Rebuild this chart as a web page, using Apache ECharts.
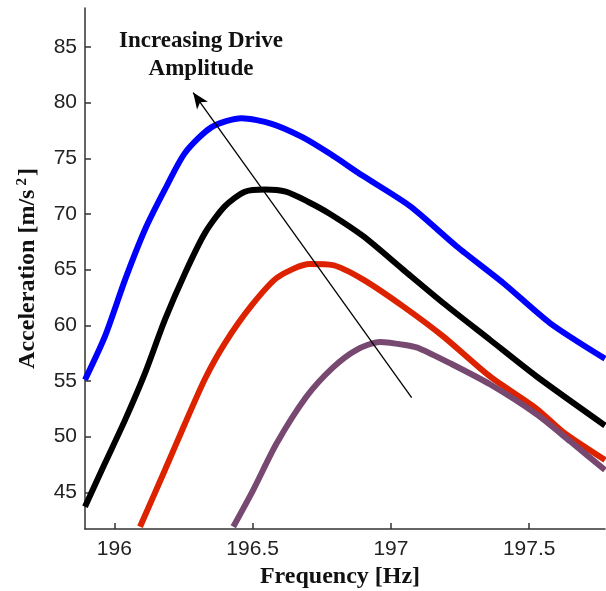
<!DOCTYPE html>
<html>
<head>
<meta charset="utf-8">
<script src="https://cdn.jsdelivr.net/npm/echarts@6/dist/echarts.min.js"></script>
<style>html,body{margin:0;padding:0;background:#fff}#c{width:606px;height:591px}</style>
</head>
<body>
<div id="c"></div>
<script>
// Frequency [Hz], Acceleration [m/s^2]
const blueX  = [195.894,195.966,196.039,196.111,196.183,196.256,196.352,196.46,196.569,196.68,196.78,196.90,197.069,197.237,197.406,197.575,197.774];
const blueY  = [55.1,59.0,64.1,68.6,72.2,75.5,77.8,78.6,78.1,76.9,75.4,73.4,70.7,67.1,63.8,60.2,57.0];
const blackX = [195.894,195.966,196.039,196.111,196.183,196.256,196.328,196.40,196.472,196.545,196.62,196.70,196.78,196.90,197.044,197.189,197.358,197.527,197.774];
const blackY = [43.7,47.6,51.5,55.7,60.5,64.7,68.3,70.7,72.0,72.2,72.0,71.1,70.0,68.0,65.0,62.0,58.7,55.4,51.0];
const redX   = [196.093,196.183,196.256,196.328,196.40,196.497,196.59,196.707,196.79,196.90,197.044,197.189,197.358,197.527,197.623,197.774];
const redY   = [41.9,47.0,51.2,55.2,58.4,61.8,64.3,65.5,65.4,64.1,61.7,59.0,55.4,52.5,50.4,47.9];
const purpX  = [196.43,196.502,196.587,196.695,196.79,196.876,196.96,197.057,197.105,197.213,197.358,197.527,197.647,197.774];
const purpY  = [41.9,45.2,49.4,53.6,56.2,57.8,58.5,58.2,57.9,56.6,54.7,52.0,49.6,47.0];
const xTicks = [196,196.5,197,197.5];
const yTicks = [45,50,55,60,65,70,75,80,85];
const arrowFrom = [197.075,53.5];
const arrowTo   = [196.285,80.9];

const zip = (xs, ys) => xs.map((x, i) => [x, ys[i]]);
const chart = echarts.init(document.getElementById('c'));
const serif = 'Liberation Serif';
const mk = (name, xs, ys, color) => ({
  name, type: 'line', data: zip(xs, ys), showSymbol: false, smooth: 0.25,
  lineStyle: { color, width: 6 }, itemStyle: { color }, z: 3
});
const s = [
  mk('blue', blueX, blueY, '#0000ff'),
  mk('black', blackX, blackY, '#000000'),
  mk('red', redX, redY, '#dd2200'),
  mk('purple', purpX, purpY, '#774870')
];
s.push({
  type: 'line', data: [], silent: true,
  markLine: {
    silent: true, symbol: ['none', 'arrow'], symbolSize: [10, 16],
    label: { show: false },
    lineStyle: { color: '#000', width: 1.3, type: 'solid' },
    data: [[{ coord: arrowFrom }, { coord: arrowTo }]]
  }
});
chart.setOption({
  animation: false,
  grid: { left: 85, right: 1, top: 8, bottom: 62, outerBoundsMode: 'none', containLabel: false },
  xAxis: {
    type: 'value', min: 195.894, max: 197.774,
    name: 'Frequency [Hz]', nameLocation: 'middle', nameGap: 33,
    nameTextStyle: { fontFamily: serif, fontWeight: 'bold', fontSize: 24, color: '#111', padding: [0, 10, 0, 0] },
    axisLine: { lineStyle: { color: '#333', width: 1.5 } },
    axisTick: { inside: true, length: 6, customValues: xTicks, lineStyle: { color: '#333', width: 1.5 } },
    axisLabel: { customValues: xTicks, fontFamily: 'Liberation Sans', fontSize: 21, color: '#222', margin: 10,
      formatter: v => String(v) },
    splitLine: { show: false }
  },
  yAxis: {
    type: 'value', min: 41.7, max: 88.5,
    name: '{t|Acceleration [m/s}{sup|2}{t|]}', nameLocation: 'middle', nameGap: 44, nameRotate: 90,
    nameTextStyle: { fontFamily: serif, fontWeight: 'bold', fontSize: 24, color: '#111',
      rich: { t: { fontFamily: serif, fontWeight: 'bold', fontSize: 24, color: '#111' },
              sup: { fontFamily: serif, fontWeight: 'bold', fontSize: 15, color: '#111', padding: [0, 2, 11, 4] } } },
    axisLine: { show: true, lineStyle: { color: '#333', width: 1.5 } },
    axisTick: { show: true, inside: true, length: 6, customValues: yTicks, lineStyle: { color: '#333', width: 1.5 } },
    axisLabel: { customValues: yTicks, fontFamily: 'Liberation Sans', fontSize: 21, color: '#222', margin: 8 },
    splitLine: { show: false }
  },
  graphic: [{
    type: 'text', x: 201, y: 27,
    style: { text: 'Increasing Drive\nAmplitude', align: 'center', verticalAlign: 'top', fontFamily: serif, fontWeight: 'bold',
      fontSize: 23, lineHeight: 28, fill: '#111' }
  }],
  series: s
});
</script>
</body>
</html>
